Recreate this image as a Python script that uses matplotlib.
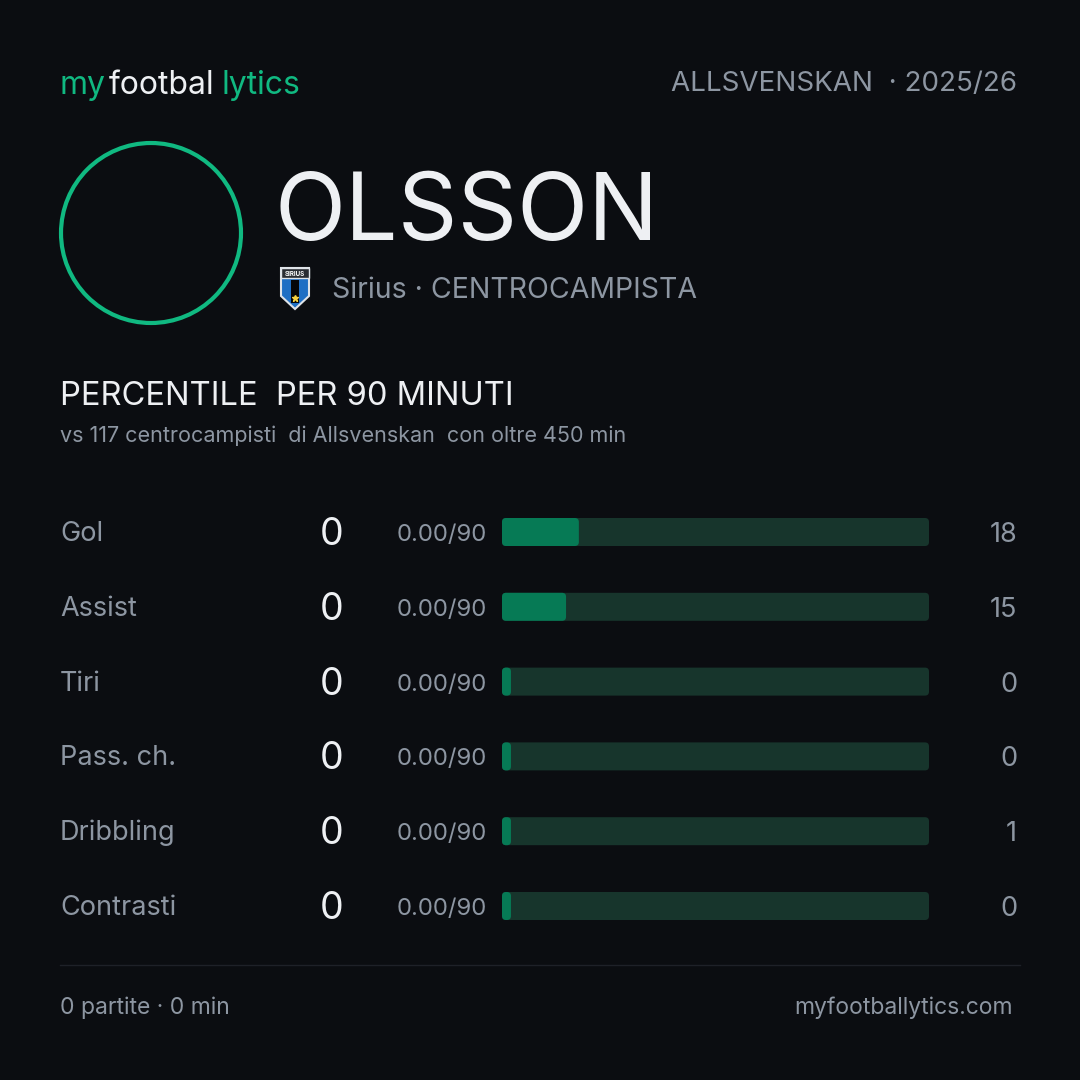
import matplotlib
matplotlib.use("Agg")
import matplotlib.pyplot as plt
from matplotlib.patches import Circle, FancyBboxPatch, Polygon, Rectangle

plt.rcParams["font.family"] = ["Inter", "DejaVu Sans"]

# data
metrics = ["Gol", "Assist", "Tiri", "Pass. ch.", "Dribbling", "Contrasti"]
totals = [0, 0, 0, 0, 0, 0]
per90 = [0.00, 0.00, 0.00, 0.00, 0.00, 0.00]
percentiles = [18, 15, 0, 0, 1, 0]

player = "OLSSON"
team = "Sirius"
role = "CENTROCAMPISTA"
league = "ALLSVENSKAN"
season = "2025/26"
n_peers = 117
min_minutes = 450
matches = 0
minutes = 0

# colours
bg = "#0b0d11"
green = "#10b981"
white = "#eef0f3"
grey = "#8d96a2"
track = "#17352c"
fill = "#067a55"

fig = plt.figure(figsize=(10.8, 10.8), dpi=100, facecolor=bg)
ax = fig.add_axes([0, 0, 1, 1])
ax.set_xlim(0, 1080)
ax.set_ylim(1080, 0)
ax.axis("off")
ax.set_facecolor(bg)

# header
ax.text(60, 94, "my", color=green, fontsize=23, va="baseline")
ax.text(109, 94, "footbal", color=white, fontsize=23, va="baseline")
ax.text(222, 94, "lytics", color=green, fontsize=23, va="baseline")
ax.text(1017, 91, league + "  · " + season, color=grey, fontsize=20, va="baseline", ha="right")

# avatar ring
ax.add_patch(Circle((151, 233), 90, fill=False, ec=green, lw=3))

ax.text(274, 240, player, color=white, fontsize=67, va="baseline")

# crest
ax.add_patch(Polygon([(281, 268), (309, 268), (309, 296), (295, 309), (281, 296)],
                     closed=True, fc="#1f6fc4", ec="#dfe3e8", lw=1.5))
ax.add_patch(Rectangle((291, 280), 8, 23, fc="#050608", ec="none"))
ax.add_patch(Rectangle((281, 268), 28, 10, fc="#2a2d33", ec="#dfe3e8", lw=1))
ax.text(295, 276, "SIRIUS", color="white", fontsize=4.5, ha="center", va="baseline", fontweight="bold")
ax.plot([295], [298], marker="*", color="#f4d03f", ms=5)

ax.text(332, 298, team + " · " + role, color=grey, fontsize=20.5, va="baseline")

# section title
ax.text(60, 405, "PERCENTILE  PER 90 MINUTI", color=white, fontsize=23.5, va="baseline")
ax.text(60, 442, "vs %d centrocampisti  di Allsvenskan  con oltre %d min" % (n_peers, min_minutes),
        color=grey, fontsize=15.5, va="baseline")

# rows
row_y0 = 532
row_step = 74.8
for i, name in enumerate(metrics):
    y = row_y0 + i * row_step
    ax.text(60, y + 9, name, color=grey, fontsize=19.5, va="baseline")
    ax.text(343, y + 13, str(totals[i]), color=white, fontsize=27, va="baseline", ha="right")
    ax.text(487, y + 9, "%.2f/90" % per90[i], color=grey, fontsize=17.2, va="baseline", ha="right")
    ax.text(1017, y + 10, str(percentiles[i]), color=grey, fontsize=19.5, va="baseline", ha="right")

# bars in their own axes: x = percentile 0..100, y = row index
bx0, bx1 = 502, 929
ytop = row_y0 - row_step / 2
ybot = row_y0 + row_step * (len(metrics) - 0.5)
bax = fig.add_axes([bx0 / 1080, 1 - ybot / 1080, (bx1 - bx0) / 1080, (ybot - ytop) / 1080])
bax.set_xlim(0, 100)
bax.set_ylim(len(metrics) - 0.5, -0.5)
bax.axis("off")
bax.patch.set_alpha(0)

px_x = (bx1 - bx0) / 100.0
bar_h = 28 / row_step
aspect = px_x / row_step
rad = 4 / px_x
for i, p in enumerate(percentiles):
    bax.add_patch(FancyBboxPatch((0, i - bar_h / 2), 100, bar_h,
                                 boxstyle="round,pad=0,rounding_size=%f" % rad,
                                 mutation_aspect=aspect, fc=track, ec="none"))
    w = max(p, 2.1)
    bax.add_patch(FancyBboxPatch((0, i - bar_h / 2), w, bar_h,
                                 boxstyle="round,pad=0,rounding_size=%f" % rad,
                                 mutation_aspect=aspect, fc=fill, ec="none"))

# footer
ax.plot([60, 1020], [965, 965], color="#1e2128", lw=1)
ax.text(60, 1014, "%d partite · %d min" % (matches, minutes), color=grey, fontsize=16.5, va="baseline")
ax.text(1013, 1014, "myfootballytics.com", color=grey, fontsize=16.5, va="baseline", ha="right")

fig.savefig("out.png", dpi=100, facecolor=bg)
